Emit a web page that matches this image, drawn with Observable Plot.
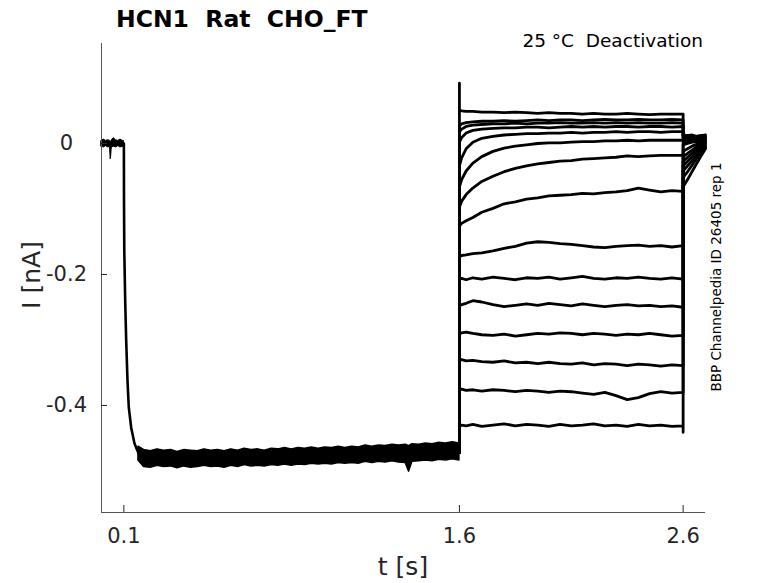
<!DOCTYPE html>
<html>
<head>
<meta charset="utf-8">
<script src="https://cdn.jsdelivr.net/npm/d3@7"></script>
<script src="https://cdn.jsdelivr.net/npm/@observablehq/plot@0.6"></script>
<style>
  html, body { margin: 0; padding: 0; background: #fff; }
  #chart svg { display: block; }
</style>
</head>
<body>
<div id="chart"></div>
<script>
// ---- axes ----
const xDomain = [0, 2.7];
const yDomain = [-0.5634, 0.1527];
const xTicks = [0.1, 1.6, 2.6];
const xTickLabels = ["0.1", "1.6", "2.6"];
const yTicks = [-0.4, -0.2, 0];
const yTickLabels = ["-0.4", "-0.2", "0"];

// ---- holding period (0 – 0.1 s), band envelope ----
const holdT  = [0, 0.01, 0.02, 0.03, 0.038, 0.041, 0.043, 0.046, 0.055, 0.065, 0.075, 0.085, 0.095, 0.1];
const holdHi = [0.004, 0.006, 0.004, 0.005, 0.004, 0.003, 0.002, 0.005, 0.008, 0.005, 0.004, 0.006, 0.004, 0.004];
const holdLo = [-0.005, -0.006, -0.004, -0.006, -0.005, -0.024, -0.020, -0.006, -0.005, -0.006, -0.004, -0.006, -0.005, -0.005];

// ---- activation onset (shared by all sweeps) ----
const actT = [0.1, 0.1006, 0.1019, 0.1059, 0.1104, 0.1162, 0.1220, 0.1328, 0.1475, 0.1654, 0.1878];
const actV = [0, -0.087, -0.163, -0.240, -0.301, -0.362, -0.403, -0.434, -0.458, -0.473, -0.481];

// ---- steady activated current (overlapping sweeps), band envelope ----
const bandT = [0.165, 0.19, 0.22, 0.25, 0.28, 0.31, 0.34, 0.37, 0.40, 0.43, 0.46, 0.49, 0.52, 0.55, 0.58, 0.61, 0.64, 0.67, 0.70, 0.73, 0.76, 0.79, 0.82, 0.85, 0.88, 0.91, 0.94, 0.97, 1.00, 1.03, 1.06, 1.09, 1.12, 1.15, 1.18, 1.21, 1.24, 1.27, 1.30, 1.33, 1.36, 1.375, 1.39, 1.42, 1.45, 1.48, 1.51, 1.54, 1.57, 1.6];
const bandHi = [-0.463, -0.468, -0.470, -0.467, -0.469, -0.468, -0.471, -0.468, -0.469, -0.470, -0.467, -0.469, -0.468, -0.470, -0.467, -0.469, -0.466, -0.468, -0.467, -0.469, -0.466, -0.467, -0.465, -0.467, -0.465, -0.466, -0.464, -0.466, -0.464, -0.465, -0.463, -0.465, -0.463, -0.464, -0.461, -0.463, -0.461, -0.462, -0.460, -0.461, -0.460, -0.462, -0.459, -0.460, -0.458, -0.459, -0.457, -0.458, -0.456, -0.458];
const bandLo = [-0.484, -0.494, -0.495, -0.492, -0.494, -0.493, -0.496, -0.493, -0.495, -0.494, -0.492, -0.494, -0.493, -0.495, -0.492, -0.494, -0.491, -0.493, -0.492, -0.493, -0.491, -0.492, -0.490, -0.492, -0.490, -0.491, -0.489, -0.490, -0.489, -0.490, -0.488, -0.489, -0.488, -0.489, -0.486, -0.488, -0.486, -0.487, -0.485, -0.487, -0.488, -0.501, -0.486, -0.485, -0.484, -0.485, -0.483, -0.484, -0.482, -0.484];
const bandEnd = -0.472;

// ---- deactivation test pulses (1.6 – 2.6 s), one array per sweep ----
const deactT = [1.6, 1.61, 1.63, 1.66, 1.7, 1.75, 1.8, 1.85, 1.9, 1.95, 2.0, 2.05, 2.1, 2.15, 2.2, 2.25, 2.3, 2.35, 2.4, 2.45, 2.5, 2.55, 2.6];
const sweep01 = [0.051, 0.050, 0.049, 0.049, 0.048, 0.048, 0.047, 0.048, 0.047, 0.046, 0.047, 0.046, 0.046, 0.045, 0.046, 0.045, 0.045, 0.046, 0.045, 0.044, 0.045, 0.045, 0.045];
const sweep02 = [0.027, 0.030, 0.032, 0.033, 0.034, 0.034, 0.035, 0.034, 0.035, 0.036, 0.035, 0.036, 0.036, 0.035, 0.036, 0.037, 0.036, 0.036, 0.037, 0.036, 0.036, 0.037, 0.036];
const sweep03 = [0.018, 0.022, 0.026, 0.028, 0.029, 0.030, 0.030, 0.031, 0.030, 0.031, 0.031, 0.032, 0.031, 0.031, 0.032, 0.031, 0.032, 0.031, 0.032, 0.031, 0.031, 0.032, 0.031];
const sweep04 = [0.002, 0.009, 0.016, 0.020, 0.022, 0.023, 0.024, 0.024, 0.025, 0.025, 0.024, 0.025, 0.026, 0.025, 0.026, 0.025, 0.026, 0.026, 0.025, 0.026, 0.026, 0.025, 0.026];
const sweep05 = [-0.034, -0.022, -0.008, 0.002, 0.008, 0.011, 0.013, 0.014, 0.015, 0.015, 0.016, 0.016, 0.017, 0.016, 0.017, 0.017, 0.018, 0.017, 0.018, 0.018, 0.017, 0.018, 0.018];
const sweep06 = [-0.066, -0.055, -0.042, -0.030, -0.020, -0.012, -0.007, -0.004, -0.002, 0.000, 0.001, 0.001, 0.002, 0.003, 0.003, 0.004, 0.004, 0.005, 0.004, 0.005, 0.005, 0.005, 0.005];
const sweep07 = [-0.097, -0.088, -0.078, -0.068, -0.058, -0.050, -0.043, -0.038, -0.034, -0.031, -0.029, -0.027, -0.026, -0.024, -0.023, -0.022, -0.021, -0.019, -0.020, -0.019, -0.018, -0.018, -0.018];
const sweep08 = [-0.126, -0.122, -0.118, -0.113, -0.105, -0.099, -0.092, -0.089, -0.085, -0.083, -0.080, -0.079, -0.078, -0.076, -0.077, -0.075, -0.074, -0.072, -0.068, -0.071, -0.074, -0.072, -0.073];
const sweep09 = [-0.173, -0.171, -0.170, -0.168, -0.167, -0.164, -0.160, -0.157, -0.152, -0.150, -0.151, -0.153, -0.154, -0.156, -0.158, -0.159, -0.157, -0.156, -0.155, -0.157, -0.156, -0.158, -0.156];
const sweep10 = [-0.207, -0.206, -0.208, -0.205, -0.207, -0.204, -0.206, -0.208, -0.205, -0.206, -0.204, -0.207, -0.205, -0.203, -0.206, -0.207, -0.205, -0.206, -0.204, -0.206, -0.207, -0.205, -0.207];
const sweep11 = [-0.248, -0.246, -0.244, -0.240, -0.242, -0.246, -0.249, -0.247, -0.245, -0.247, -0.244, -0.246, -0.248, -0.245, -0.247, -0.249, -0.247, -0.246, -0.248, -0.247, -0.249, -0.248, -0.250];
const sweep12 = [-0.291, -0.289, -0.288, -0.290, -0.292, -0.293, -0.291, -0.294, -0.292, -0.290, -0.291, -0.289, -0.290, -0.292, -0.290, -0.291, -0.293, -0.291, -0.292, -0.290, -0.292, -0.294, -0.293];
const sweep13 = [-0.331, -0.330, -0.332, -0.331, -0.333, -0.334, -0.332, -0.335, -0.334, -0.336, -0.334, -0.336, -0.337, -0.335, -0.338, -0.336, -0.337, -0.339, -0.337, -0.338, -0.340, -0.338, -0.339];
const sweep14 = [-0.376, -0.375, -0.377, -0.376, -0.378, -0.376, -0.377, -0.379, -0.377, -0.378, -0.380, -0.378, -0.379, -0.381, -0.383, -0.380, -0.385, -0.391, -0.388, -0.382, -0.379, -0.381, -0.380];
const sweep15 = [-0.432, -0.430, -0.431, -0.429, -0.432, -0.430, -0.428, -0.431, -0.429, -0.430, -0.432, -0.429, -0.431, -0.430, -0.428, -0.431, -0.430, -0.432, -0.429, -0.431, -0.430, -0.432, -0.431];
const sweepStartSpike = [0.092, null, null, null, null, null, null, null, null, null, null, null, null, null, null];
const sweepEndSpike   = [null, null, null, null, null, null, null, null, null, null, null, null, null, null, -0.441];

// ---- tail currents after return to holding (2.6 – 2.7 s) ----
const tailT = [2.6, 2.62, 2.64, 2.66, 2.68, 2.7];
const tail01 = [0.013, 0.012, 0.013, 0.011, 0.012, 0.013];
const tail02 = [0.011, 0.012, 0.010, 0.011, 0.012, 0.010];
const tail03 = [0.010, 0.009, 0.010, 0.011, 0.009, 0.010];
const tail04 = [0.008, 0.009, 0.008, 0.010, 0.008, 0.009];
const tail05 = [0.006, 0.007, 0.008, 0.007, 0.008, 0.007];
const tail06 = [0.004, 0.005, 0.006, 0.006, 0.007, 0.006];
const tail07 = [0.002, 0.003, 0.004, 0.005, 0.005, 0.006];
const tail08 = [-0.002, 0.000, 0.002, 0.003, 0.004, 0.005];
const tail09 = [-0.012, -0.008, -0.004, -0.001, 0.002, 0.003];
const tail10 = [-0.020, -0.015, -0.010, -0.005, -0.001, 0.002];
const tail11 = [-0.027, -0.021, -0.015, -0.009, -0.004, 0.000];
const tail12 = [-0.034, -0.027, -0.020, -0.013, -0.007, -0.002];
const tail13 = [-0.042, -0.034, -0.026, -0.018, -0.010, -0.004];
const tail14 = [-0.052, -0.043, -0.033, -0.023, -0.014, -0.006];
const tail15 = [-0.066, -0.055, -0.043, -0.031, -0.019, -0.008];

// ---- texts ----
const titleText = "HCN1  Rat  CHO_FT";
const subtitleText = "25 °C  Deactivation";
const sideText = "BBP Channelpedia ID 26405 rep 1";
const xLabel = "t [s]";
const yLabel = "I [nA]";

// ---- build tables ----
const sweeps = [sweep01, sweep02, sweep03, sweep04, sweep05, sweep06, sweep07, sweep08, sweep09, sweep10, sweep11, sweep12, sweep13, sweep14, sweep15];
const tails = [tail01, tail02, tail03, tail04, tail05, tail06, tail07, tail08, tail09, tail10, tail11, tail12, tail13, tail14, tail15];

const holdData = holdT.map((t, i) => ({t, lo: holdLo[i], hi: holdHi[i]}));
const actData = actT.map((t, i) => ({t, v: actV[i]}));
const bandData = bandT.map((t, i) => ({t, lo: bandLo[i], hi: bandHi[i]}));

const sweepData = [];
sweeps.forEach((vals, s) => {
  sweepData.push({s, t: deactT[0], v: bandEnd});
  if (sweepStartSpike[s] != null) sweepData.push({s, t: deactT[0], v: sweepStartSpike[s]});
  deactT.forEach((t, j) => sweepData.push({s, t, v: vals[j]}));
  if (sweepEndSpike[s] != null) sweepData.push({s, t: deactT[deactT.length - 1], v: sweepEndSpike[s]});
  tailT.forEach((t, j) => sweepData.push({s, t, v: tails[s][j]}));
});

const axisColor = "#262626";
const font = "DejaVu Sans";

const plot = Plot.plot({
  width: 778,
  height: 583,
  marginTop: 43,
  marginRight: 73,
  marginBottom: 71,
  marginLeft: 101,
  style: {fontFamily: font, background: "#fff"},
  x: {domain: xDomain},
  y: {domain: yDomain},
  marks: [
    Plot.areaY(holdData, {x: "t", y1: "lo", y2: "hi", fill: "black", stroke: "black", strokeWidth: 1}),
    Plot.line(actData, {x: "t", y: "v", stroke: "black", strokeWidth: 2.6}),
    Plot.areaY(bandData, {x: "t", y1: "lo", y2: "hi", fill: "black", stroke: "black", strokeWidth: 1.5}),
    Plot.line(sweepData, {x: "t", y: "v", z: "s", stroke: "black", strokeWidth: 2.8, strokeLinejoin: "round"}),
    Plot.ruleX([xDomain[0]], {stroke: "#555", strokeWidth: 1}),
    Plot.ruleY([yDomain[0]], {stroke: "#555", strokeWidth: 1}),
    Plot.axisX({ticks: xTicks, tickFormat: d => xTickLabels[xTicks.indexOf(d)], tickSize: -7, tickPadding: 23, fontSize: 21, color: axisColor, label: null}),
    Plot.axisY({ticks: yTicks, tickFormat: d => yTickLabels[yTicks.indexOf(d)], tickSize: -6, tickPadding: 41, textAnchor: "middle", fontSize: 21, color: axisColor, label: null})
  ]
});

document.getElementById("chart").appendChild(plot);

const svg = d3.select(plot);
svg.append("text")
  .attr("x", 116).attr("y", 27).attr("text-anchor", "start")
  .attr("font-family", font).attr("font-weight", "bold").attr("font-size", 23.5)
  .attr("fill", "#000").style("white-space", "pre")
  .text(titleText);
svg.append("text")
  .attr("x", 703).attr("y", 47).attr("text-anchor", "end")
  .attr("font-family", font).attr("font-size", 18.5)
  .attr("fill", "#000").style("white-space", "pre")
  .text(subtitleText);
svg.append("text")
  .attr("transform", "translate(40,275) rotate(-90)").attr("text-anchor", "middle")
  .attr("font-family", font).attr("font-size", 25)
  .attr("fill", axisColor)
  .text(yLabel);
svg.append("text")
  .attr("x", 403).attr("y", 575).attr("text-anchor", "middle")
  .attr("font-family", font).attr("font-size", 25)
  .attr("fill", axisColor)
  .text(xLabel);
svg.append("text")
  .attr("transform", "translate(721,277) rotate(-90)").attr("text-anchor", "middle")
  .attr("font-family", font).attr("font-size", 13.5)
  .attr("fill", "#000")
  .text(sideText);
</script>
</body>
</html>
